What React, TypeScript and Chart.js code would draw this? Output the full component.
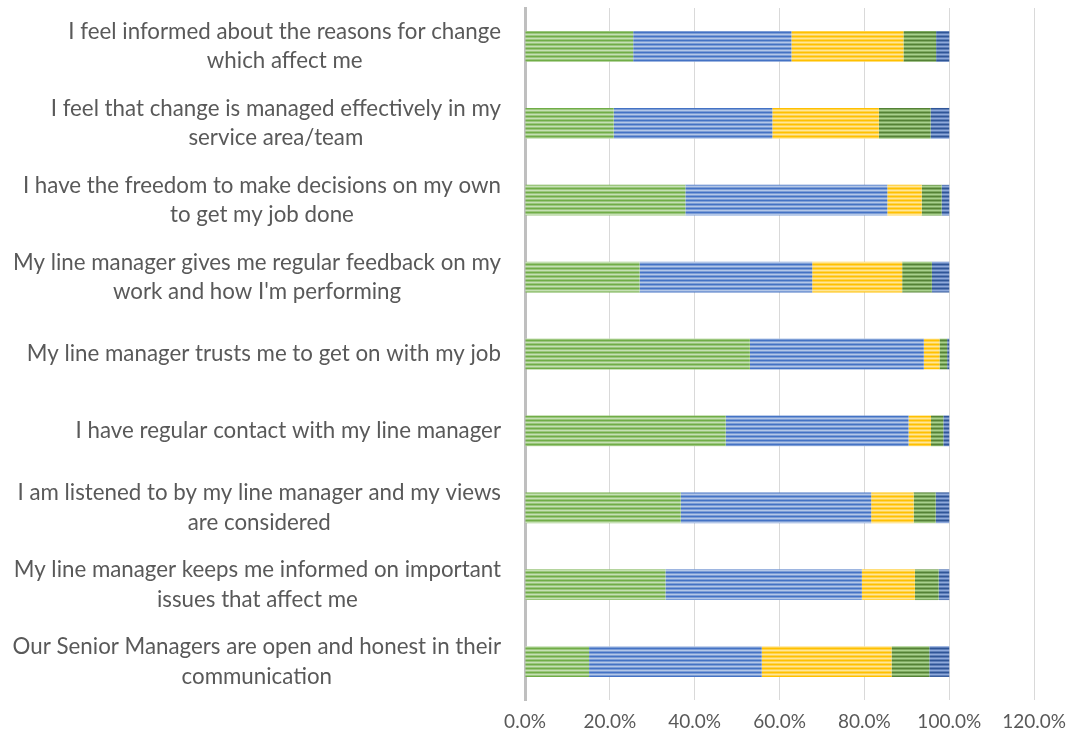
import React, { useEffect, useRef } from "react";
import { Chart, registerables } from "chart.js";

Chart.register(...registerables);

const categories: string[][] = [
  ["I feel informed about the reasons for change", "which affect me"],
  ["I feel that change is managed effectively in my", "service area/team"],
  ["I have the freedom to make decisions on my own", "to get my job done"],
  ["My line manager gives me regular feedback on my", "work and how I'm performing"],
  ["My line manager trusts me to get on with my job"],
  ["I have regular contact with my line manager"],
  ["I am listened to by my line manager and my views", "are considered"],
  ["My line manager keeps me informed on important", "issues that affect me"],
  ["Our Senior Managers are open and honest in their", "communication"],
];

const seriesNames = ["Strongly agree", "Agree", "Neither agree nor disagree", "Disagree", "Strongly disagree"];

const stronglyAgree = [25.5, 20.9, 37.8, 27.0, 53.0, 47.3, 36.7, 33.1, 15.1];
const agree = [37.3, 37.4, 47.6, 40.7, 41.0, 43.1, 44.9, 46.3, 40.7];
const neither = [26.4, 25.1, 8.1, 21.2, 3.7, 5.3, 10.0, 12.5, 30.6];
const disagree = [7.7, 12.2, 4.7, 7.0, 1.8, 2.9, 5.2, 5.6, 8.9];
const stronglyDisagree = [3.1, 4.4, 1.8, 4.1, 0.5, 1.4, 3.2, 2.5, 4.7];

const xTicks = [0, 20, 40, 60, 80, 100, 120];

const baseColors = ["#70AD47", "#4472C4", "#FFC000", "#548235", "#2F5597"];
const lightColors = ["#C5E0B4", "#B4C7E7", "#FFE699", "#A9D18E", "#8FAADC"];

const FONT = "Lato, 'Open Sans', sans-serif";
const TEXT_COLOR = "#595959";

function makePattern(ctx: CanvasRenderingContext2D, base: string, light: string) {
  const p = document.createElement("canvas");
  p.width = 4;
  p.height = 4;
  const pc = p.getContext("2d")!;
  pc.fillStyle = base;
  pc.fillRect(0, 0, 4, 4);
  pc.fillStyle = light;
  pc.fillRect(0, 2, 4, 1);
  pc.globalAlpha = 0.5;
  pc.fillRect(0, 1, 4, 1);
  pc.fillRect(0, 3, 4, 1);
  return ctx.createPattern(p, "repeat") || base;
}

const yLabelPlugin = {
  id: "yLabelPlugin",
  afterDraw(chart: any) {
    const { ctx, chartArea } = chart;
    const yScale = chart.scales.y;
    ctx.save();
    ctx.font = `22.3px ${FONT}`;
    ctx.fillStyle = TEXT_COLOR;
    ctx.textAlign = "center";
    ctx.textBaseline = "middle";
    const lineH = 29.5;
    const rightX = chartArea.left - 24;
    categories.forEach((lines, i) => {
      const y = yScale.getPixelForTick(i);
      const maxW = Math.max(...lines.map((l) => ctx.measureText(l).width));
      const cx = rightX - maxW / 2;
      const startY = y - ((lines.length - 1) * lineH) / 2;
      lines.forEach((l, j) => ctx.fillText(l, cx, startY + j * lineH));
    });
    ctx.restore();
  },
};

export default function App() {
  const ref = useRef<HTMLCanvasElement>(null);
  useEffect(() => {
    const canvas = ref.current!;
    const ctx = canvas.getContext("2d")!;
    const series = [stronglyAgree, agree, neither, disagree, stronglyDisagree];
    const chart = new Chart(canvas, {
      type: "bar",
      data: {
        labels: categories.map((c) => c.join(" ")),
        datasets: series.map((d, i) => ({
          label: seriesNames[i],
          data: d,
          backgroundColor: makePattern(ctx, baseColors[i], lightColors[i]) as any,
          borderWidth: 0,
          barPercentage: 0.4,
          categoryPercentage: 1,
        })),
      },
      options: {
        indexAxis: "y",
        animation: false,
        responsive: false,
        maintainAspectRatio: false,
        layout: { padding: { top: 8, bottom: 9, right: 38, left: 0 } },
        plugins: { legend: { display: false }, tooltip: { enabled: false } },
        scales: {
          x: {
            stacked: true,
            min: 0,
            max: 120,
            afterBuildTicks: (scale: any) => {
              scale.ticks = xTicks.map((v) => ({ value: v }));
            },
            afterFit: (scale: any) => {
              scale.height = 32;
            },
            ticks: {
              padding: 10,
              color: TEXT_COLOR,
              font: { family: FONT, size: 19 },
              callback: (v: any) => Number(v).toFixed(1) + "%",
              maxRotation: 0,
            },
            grid: { color: "#D9D9D9", lineWidth: 1, drawTicks: false },
            border: { display: false },
          },
          y: {
            stacked: true,
            afterFit: (scale: any) => {
              scale.width = 525;
            },
            ticks: { display: false },
            grid: { display: false, drawTicks: false },
            border: { display: true, color: "#BFBFBF", width: 3 },
          },
        },
      },
      plugins: [yLabelPlugin],
    });
    return () => chart.destroy();
  }, []);
  return (
    <div style={{ position: "fixed", left: 0, top: 0, width: 1076, height: 741, background: "#fff" }}>
      <canvas ref={ref} width={1076} height={741} style={{ display: "block" }} />
    </div>
  );
}
